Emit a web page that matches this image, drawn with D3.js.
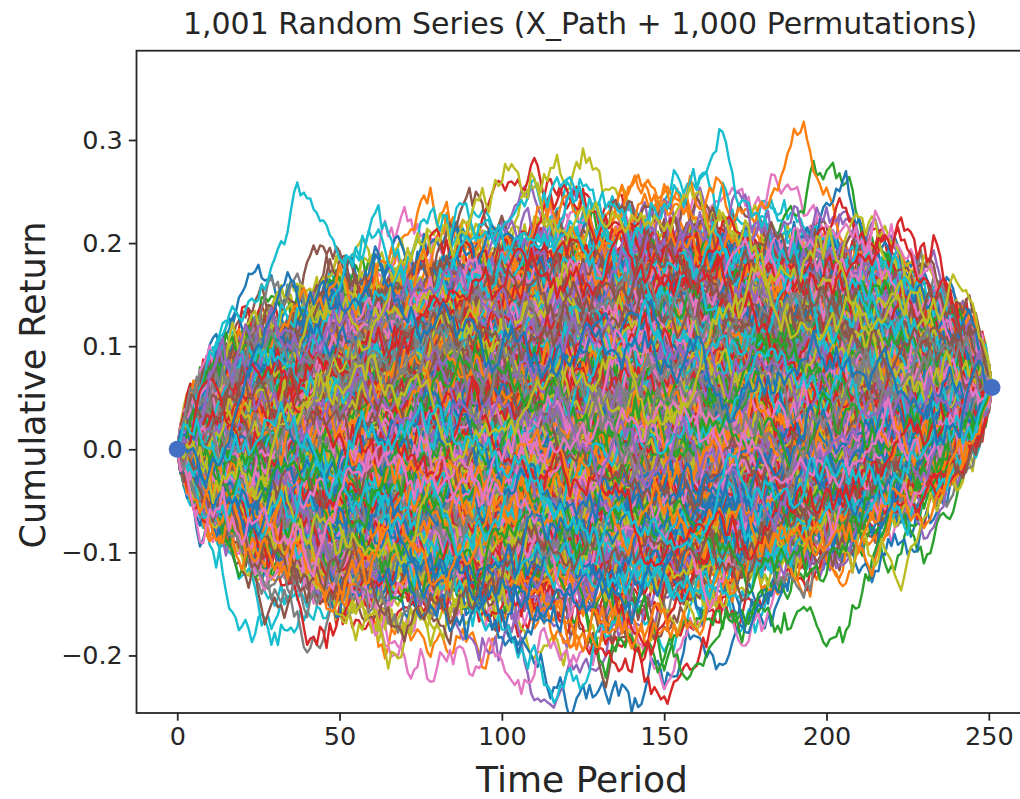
<!DOCTYPE html>
<html>
<head>
<meta charset="utf-8">
<script src="https://cdn.jsdelivr.net/npm/d3@7"></script>
<style>
  body { margin: 0; background: #ffffff; }
  text { font-family: "DejaVu Sans", sans-serif; fill: #262626; }
</style>
</head>
<body>
<script>
//////////////////////////////////////////////////////////////////////////////
// Data
//

// daily returns of X_Path, in basis points (251 periods, ends at +0.06)
var xPathReturnsBps = [
  45, -120, 87, 12, -63, 154, -31, -98, 76, 20,
  -142, 38, 95, -17, -210, 66, 130, -54, 8, -89,
  113, 27, -76, 182, -5, -133, 61, 94, -40, 150,
  -67, -188, 24, 71, -115, 43, -9, 205, -84, 33,
  88, -36, -149, 117, 52, -71, 14, -230, 99, 160,
  -22, 73, -105, -48, 136, 19, -167, 82, 57, -11,
  201, -93, 40, -128, 65, 110, -58, -3, -176, 92,
  -44, 126, -81, 31, -139, 85, 6, 148, -118, -27,
  59, -196, 103, -62, 18, 171, -35, -90, 47, -124,
  140, 2, -73, 91, -159, 68, 121, -46, -15, 37,
  -101, 56, -233, 79, 25, -68, 187, -12, -86, 109,
  34, -147, 72, 128, -53, -8, 96, -181, 15, 64,
  -30, 162, -112, -49, 83, -7, 53, -95, 240, -138,
  21, -64, 115, -171, 39, 97, -26, -83, 144, -59,
  -119, 48, 10, -92, 178, -41, 67, -154, 26, 80,
  132, -78, -19, 58, -126, 196, -60, 4, -107, 75,
  -52, -165, 90, 35, -2, 124, -99, 62, -37, -145,
  106, 29, -74, 153, -118, 11, 70, -200, 86, -23,
  44, -131, 168, -57, -94, 50, 17, 119, -166, 63,
  -85, 100, -42, -121, 213, -69, 36, -14, 78, -152,
  123, -33, -178, 69, 5, 141, -88, -50, 28, -110,
  93, 157, -66, -135, 41, -16, 84, -104, 190, -45,
  -186, 60, 22, -79, 111, -125, 49, 9, -56, 134,
  -20, 77, -143, 102, -38, 55, -97, 174, -70, 13,
  66, -114, 30, -161, 89, 146, -28, -82, 118, -47,
  158
];

var permutationCount = 1000;

var xTicks = [0, 50, 100, 150, 200, 250];
var yTicks = [-0.2, -0.1, 0.0, 0.1, 0.2, 0.3];

var titleText = "1,001 Random Series (X_Path + 1,000 Permutations)";
var xLabelText = "Time Period";
var yLabelText = "Cumulative Return";

var colors = ["#1f77b4", "#ff7f0e", "#2ca02c", "#d62728", "#9467bd",
              "#8c564b", "#e377c2", "#7f7f7f", "#bcbd22", "#17becf"];

//////////////////////////////////////////////////////////////////////////////
// Series building
//

// cumulative path starting at 0
function cumulative(returns)
{
    var out = [0], s = 0;
    for (var i = 0; i < returns.length; i++) {
        s += returns[i] / 10000;
        out.push(s);
    }
    return out;
}

// 251 is prime and gcd(3, 250) = 1, so i -> a*(i+c)^3 + b (mod 251)
// is a reordering of the same returns
function permuted(returns, a, b, c)
{
    var n = returns.length, out = [];
    for (var i = 0; i < n; i++) {
        var u = (i + c) % n;
        var cube = ((u * u) % n) * u % n;
        out.push(returns[(a * cube + b) % n]);
    }
    return out;
}

var series = [cumulative(xPathReturnsBps)];
for (var k = 0; k < permutationCount; k++) {
    var a = 1 + (k % 250);
    var b = (k * 97 + 13) % xPathReturnsBps.length;
    var c = (k * 31 + 7) % xPathReturnsBps.length;
    series.push(cumulative(permuted(xPathReturnsBps, a, b, c)));
}

//////////////////////////////////////////////////////////////////////////////
// Drawing
//

var W = 1020, H = 799;
var plot = { left: 136.5, right: 1032.8, top: 50.7, bottom: 713 };

var svg = d3.select("body").append("svg")
    .attr("width", W)
    .attr("height", H);

var x = d3.scaleLinear().domain([-12.55, 263.55]).range([plot.left, plot.right]);
var y = d3.scaleLinear().domain([-0.2558, 0.3866]).range([plot.bottom, plot.top]);

svg.append("clipPath").attr("id", "clip")
    .append("rect")
    .attr("x", plot.left).attr("y", plot.top)
    .attr("width", plot.right - plot.left)
    .attr("height", plot.bottom - plot.top);

var line = d3.line()
    .x(function(d, i) { return x(i); })
    .y(function(d) { return y(d); });

svg.append("g")
    .attr("clip-path", "url(#clip)")
    .selectAll("path")
    .data(series)
    .join("path")
    .attr("d", line)
    .attr("fill", "none")
    .attr("stroke", function(d, i) { return colors[i % 10]; })
    .attr("stroke-width", 2.4)
    .attr("stroke-linejoin", "round");

// start and end markers of X_Path
var xp = series[0];
svg.append("g")
    .selectAll("circle")
    .data([0, xp.length - 1])
    .join("circle")
    .attr("cx", function(i) { return x(i); })
    .attr("cy", function(i) { return y(xp[i]); })
    .attr("r", 8.5)
    .attr("fill", "#4470c4");

// axes
var xAxis = svg.append("g")
    .attr("transform", "translate(0," + plot.bottom + ")")
    .call(d3.axisBottom(x).tickValues(xTicks).tickSize(7.7).tickPadding(6).tickFormat(d3.format("d")));
var yAxis = svg.append("g")
    .attr("transform", "translate(" + plot.left + ",0)")
    .call(d3.axisLeft(y).tickValues(yTicks).tickSize(7.7).tickPadding(6).tickFormat(d3.format(".1f")));

[xAxis, yAxis].forEach(function(g) {
    g.select(".domain").remove();
    g.selectAll(".tick line").attr("stroke", "#262626").attr("stroke-width", 1.8);
    g.selectAll(".tick text").attr("font-size", 25.5).attr("font-family", "DejaVu Sans").attr("fill", "#262626");
});

// spines (right one falls outside the picture)
svg.append("rect")
    .attr("x", plot.left).attr("y", plot.top)
    .attr("width", plot.right - plot.left)
    .attr("height", plot.bottom - plot.top)
    .attr("fill", "none")
    .attr("stroke", "#262626")
    .attr("stroke-width", 1.8);

// titles
svg.append("text")
    .attr("x", 580)
    .attr("y", 34)
    .attr("text-anchor", "middle")
    .attr("font-size", 30)
    .text(titleText);

svg.append("text")
    .attr("x", 582)
    .attr("y", 792)
    .attr("text-anchor", "middle")
    .attr("font-size", 36)
    .text(xLabelText);

svg.append("text")
    .attr("transform", "translate(45,385) rotate(-90)")
    .attr("text-anchor", "middle")
    .attr("font-size", 35)
    .text(yLabelText);
</script>
</body>
</html>
